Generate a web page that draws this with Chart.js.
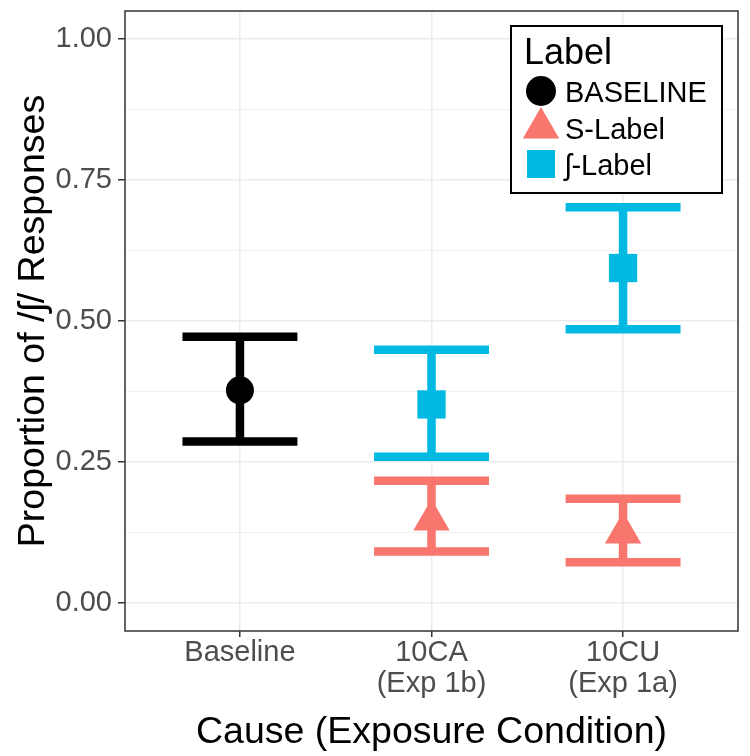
<!DOCTYPE html>
<html>
<head>
<meta charset="utf-8">
<script src="https://cdn.jsdelivr.net/npm/chart.js@4.4.1/dist/chart.umd.min.js"></script>
<style>
  html, body { margin: 0; padding: 0; background: #fff; }
  canvas { display: block; }
</style>
</head>
<body>
<canvas id="myChart" width="750" height="756"></canvas>
<script>
// Categories on the x axis (multi-line tick labels)
const categories = [['Baseline'], ['10CA', '(Exp 1b)'], ['10CU', '(Exp 1a)']];

// Y axis ticks
const yMajorTicks = [0, 0.25, 0.5, 0.75, 1];
const yMinorTicks = [0.125, 0.375, 0.625, 0.875];
const yTickLabels = ['0.00', '0.25', '0.50', '0.75', '1.00'];

// Series: category index, mean, lower and upper error bar
const baselineCat = [0];
const baselineMean = [0.377];
const baselineLow = [0.286];
const baselineHigh = [0.472];

const sLabelCat = [1, 2];
const sLabelMean = [0.147, 0.124];
const sLabelLow = [0.091, 0.072];
const sLabelHigh = [0.2165, 0.1845];

const eshLabelCat = [1, 2];
const eshLabelMean = [0.352, 0.594];
const eshLabelLow = [0.259, 0.4855];
const eshLabelHigh = [0.449, 0.702];

const FONT = "'Liberation Sans', Arial, 'DejaVu Sans', sans-serif";

const series = [
    { name: 'BASELINE', color: '#000000', shape: 'circle', radius: 14, cat: baselineCat, mean: baselineMean, low: baselineLow, high: baselineHigh },
    { name: 'S-Label', color: '#F8766D', shape: 'triangle', radius: 21, cat: sLabelCat, mean: sLabelMean, low: sLabelLow, high: sLabelHigh },
    { name: 'ʃ-Label', color: '#00B9E3', shape: 'rect', radius: 20, cat: eshLabelCat, mean: eshLabelMean, low: eshLabelLow, high: eshLabelHigh }
];

// Error bars drawn under the points, through the chart scales
const errorBars = {
    id: 'errorBars',
    beforeDatasetsDraw(chart) {
        const { ctx, scales: { x, y } } = chart;
        const capHalf = 0.3;
        ctx.save();
        ctx.lineWidth = 8.5;
        ctx.lineCap = 'butt';
        series.forEach(s => {
            ctx.strokeStyle = s.color;
            s.cat.forEach((c, i) => {
                const xc = x.getPixelForValue(c + 1);
                const xl = x.getPixelForValue(c + 1 - capHalf);
                const xr = x.getPixelForValue(c + 1 + capHalf);
                const yl = y.getPixelForValue(s.low[i]);
                const yh = y.getPixelForValue(s.high[i]);
                ctx.beginPath();
                ctx.moveTo(xc, yl); ctx.lineTo(xc, yh);
                ctx.moveTo(xl, yl); ctx.lineTo(xr, yl);
                ctx.moveTo(xl, yh); ctx.lineTo(xr, yh);
                ctx.stroke();
            });
        });
        ctx.restore();
    }
};

// Panel border and the legend box
const panelAndLegend = {
    id: 'panelAndLegend',
    afterDraw(chart) {
        const { ctx, chartArea: a } = chart;
        ctx.save();
        ctx.strokeStyle = '#333333';
        ctx.lineWidth = 1.5;
        ctx.strokeRect(a.left, a.top, a.right - a.left, a.bottom - a.top);

        // legend
        const lx = 511, ly = 26, lw = 211, lh = 167;
        ctx.fillStyle = '#ffffff';
        ctx.fillRect(lx, ly, lw, lh);
        ctx.strokeStyle = '#000000';
        ctx.lineWidth = 2;
        ctx.strokeRect(lx, ly, lw, lh);

        ctx.fillStyle = '#000000';
        ctx.textAlign = 'left';
        ctx.textBaseline = 'alphabetic';
        ctx.font = '36px ' + FONT;
        ctx.fillText('Label', 524, 64);

        const rowY = [91, 128, 164];
        ctx.font = '29px ' + FONT;
        series.forEach((s, i) => {
            const cy = rowY[i];
            const cx = 541;
            ctx.fillStyle = s.color;
            ctx.beginPath();
            if (s.shape === 'circle') {
                ctx.arc(cx, cy, 15, 0, Math.PI * 2);
            } else if (s.shape === 'triangle') {
                const r = 21;
                ctx.moveTo(cx, cy - r);
                ctx.lineTo(cx + r * Math.sin(2 * Math.PI / 3), cy + r / 2);
                ctx.lineTo(cx - r * Math.sin(2 * Math.PI / 3), cy + r / 2);
                ctx.closePath();
            } else {
                ctx.rect(cx - 14, cy - 14, 28, 28);
            }
            ctx.fill();
            ctx.fillStyle = '#000000';
            ctx.fillText(s.name, 565, cy + 10.5);
        });
        ctx.restore();
    }
};

const ctx = document.getElementById('myChart').getContext('2d');

const datasets = series.map(s => ({
    label: s.name,
    data: s.cat.map((c, i) => ({ x: c + 1, y: s.mean[i] })),
    backgroundColor: s.color,
    borderColor: s.color,
    pointStyle: s.shape,
    pointRadius: s.radius,
    pointBorderWidth: 0,
    showLine: false
}));

const isMajor = v => yMajorTicks.includes(v);

const chart = new Chart(ctx, {
    type: 'scatter',
    data: { datasets: datasets },
    options: {
        responsive: false,
        animation: false,
        layout: {
            autoPadding: false,
            padding: { top: 11, right: 12, left: 0, bottom: 0 }
        },
        plugins: {
            legend: { display: false },
            tooltip: { enabled: false }
        },
        scales: {
            x: {
                type: 'linear',
                min: 0.4,
                max: 3.6,
                afterFit: scale => {
                    scale.height = 125;
                    scale.paddingLeft = 0;
                    scale.paddingRight = 0;
                },
                afterBuildTicks: scale => {
                    scale.ticks = categories.map((c, i) => ({ value: i + 1 }));
                },
                grid: {
                    color: '#ebebeb',
                    lineWidth: 1.5,
                    tickColor: '#333333',
                    tickLength: 6,
                    tickWidth: 1.5
                },
                border: { display: false },
                ticks: {
                    autoSkip: false,
                    maxRotation: 0,
                    padding: 1,
                    color: '#4d4d4d',
                    font: { family: FONT, size: 29, lineHeight: 1.05 },
                    callback: value => categories[value - 1]
                },
                title: {
                    display: true,
                    text: 'Cause (Exposure Condition)',
                    color: '#000000',
                    font: { family: FONT, size: 37.5 },
                    padding: { top: 0, bottom: 1 }
                }
            },
            y: {
                type: 'linear',
                min: -0.05,
                max: 1.05,
                afterFit: scale => {
                    scale.width = 125;
                    scale.paddingTop = 0;
                    scale.paddingBottom = 0;
                },
                afterBuildTicks: scale => {
                    scale.ticks = yMajorTicks.concat(yMinorTicks).sort((a, b) => a - b).map(v => ({ value: v }));
                },
                grid: {
                    color: '#ebebeb',
                    lineWidth: c => (c.tick && isMajor(c.tick.value)) ? 1.5 : 0.75,
                    tickColor: c => (c.tick && isMajor(c.tick.value)) ? '#333333' : 'rgba(0,0,0,0)',
                    tickLength: 7,
                    tickWidth: 1.5
                },
                border: { display: false },
                ticks: {
                    autoSkip: false,
                    padding: 6,
                    color: '#4d4d4d',
                    font: { family: FONT, size: 29 },
                    callback: value => {
                        const k = yMajorTicks.indexOf(value);
                        return k >= 0 ? yTickLabels[k] : '';
                    }
                },
                title: {
                    display: true,
                    text: 'Proportion of /ʃ/ Responses',
                    color: '#000000',
                    font: { family: FONT, size: 37.5 },
                    padding: { top: 11, bottom: 0 }
                }
            }
        }
    },
    plugins: [errorBars, panelAndLegend]
});
</script>
</body>
</html>
